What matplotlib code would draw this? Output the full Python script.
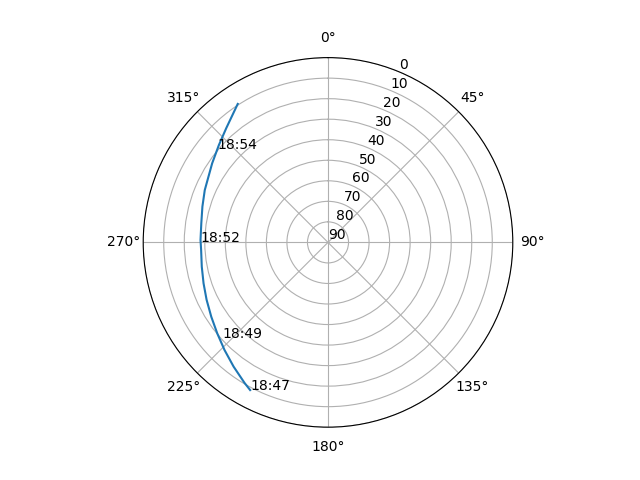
import numpy as np
import matplotlib
matplotlib.use("Agg")
import matplotlib.pyplot as plt

# satellite pass track: azimuth (deg) and elevation (deg)
azimuth = [207.8, 210.7, 217.2, 223.9, 230.6, 237.5, 244.7, 251.8, 259.1, 266.6,
           271.1, 278.6, 285.9, 293.0, 304.3, 311.7, 318.3, 326.9]
elevation = [8.7, 10.4, 14.0, 17.3, 20.2, 22.6, 24.6, 26.2, 27.4, 28.1,
             27.9, 27.6, 26.4, 24.8, 21.7, 18.8, 15.5, 9.5]

# time labels along the track
label_times = ["18:47", "18:49", "18:52", "18:54"]
label_az = [207.8, 228.0, 270.3, 310.3]
label_el = [8.7, 20.6, 28.0, 19.7]

fig = plt.figure(figsize=(6.4, 4.8), dpi=100)
ax = fig.add_subplot(111, projection='polar')
ax.set_theta_zero_location('N')
ax.set_theta_direction(-1)

ax.plot(np.radians(azimuth), elevation)
for t, a, e in zip(label_times, label_az, label_el):
    ax.text(np.radians(a), e, t)

ax.set_rlim(90, 0)
ax.set_yticks(range(0, 91, 10))
ax.grid(True)

fig.savefig("out.png")
